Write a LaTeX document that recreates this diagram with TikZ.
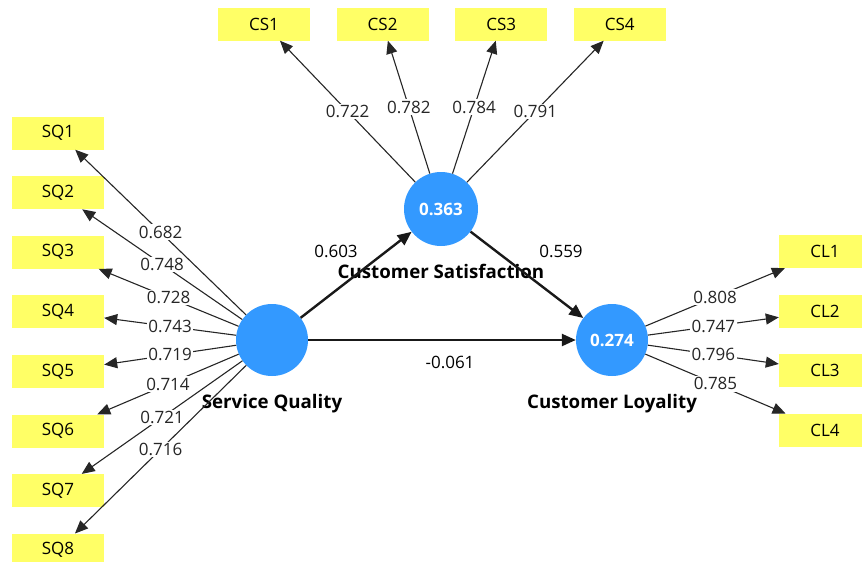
\documentclass[tikz,border=0pt]{standalone}
\usepackage{fontspec}
\setmainfont{Open Sans}
\usetikzlibrary{arrows.meta, positioning}
\definecolor{indyellow}{RGB}{255,255,102}
\definecolor{lvblue}{RGB}{51,153,255}

\begin{document}
\begin{tikzpicture}[
    x=1pt, y=-1pt,
    ind/.style={fill=indyellow, minimum width=92pt, minimum height=33pt, inner sep=0pt, font=\fontsize{17}{20}\selectfont},
    lv/.style={circle, fill=lvblue, minimum size=72pt, inner sep=0pt, text=white, font=\fontsize{17}{20}\selectfont\bfseries},
    lvname/.style={inner sep=0pt, font=\fontsize{18.7}{22}\selectfont\bfseries},
    load/.style={-{Triangle[length=13pt, width=11pt]}, line width=1.1pt, black!85},
    inner/.style={-{Triangle[length=14pt, width=12pt]}, line width=2.4pt, black!90},
    loadval/.style={pos=0.5, fill=white, inner sep=1.5pt, font=\fontsize{17}{20}\selectfont},
    pathval/.style={inner sep=0pt, font=\fontsize{17}{20}\selectfont},
    node distance=26.2pt
]
\path[use as bounding box] (0,0) rectangle (862,562);

% indicators
\node[ind] (cs1) at (264,24) {CS1};
\node[ind, right=of cs1] (cs2) {CS2};
\node[ind, right=of cs2] (cs3) {CS3};
\node[ind, right=of cs3] (cs4) {CS4};

\node[ind] (sq1) at (58,133) {SQ1};
\node[ind, below=of sq1] (sq2) {SQ2};
\node[ind, below=of sq2] (sq3) {SQ3};
\node[ind, below=of sq3] (sq4) {SQ4};
\node[ind, below=of sq4] (sq5) {SQ5};
\node[ind, below=of sq5] (sq6) {SQ6};
\node[ind, below=of sq6] (sq7) {SQ7};
\node[ind, below=of sq7] (sq8) {SQ8};

\node[ind] (cl1) at (825,251.4) {CL1};
\node[ind, below=of cl1] (cl2) {CL2};
\node[ind, below=of cl2] (cl3) {CL3};
\node[ind, below=of cl3] (cl4) {CL4};

% constructs
\node[lv] (sq) at (272,340) {};
\node[lv, minimum size=74pt] (cs) at (441,209) {0.363};
\node[lv] (cl) at (612,340) {0.274};

\node[lvname, below=18pt of sq] (sqname) {Service Quality};
\node[lvname, below=18pt of cs] (csname) {Customer Satisfaction};
\node[lvname, below=18pt of cl] (clname) {Customer Loyality};

% outer loadings
\draw[load] (sq) -- node[loadval] {0.682} (sq1);
\draw[load] (sq) -- node[loadval] {0.748} (sq2);
\draw[load] (sq) -- node[loadval] {0.728} (sq3);
\draw[load] (sq) -- node[loadval] {0.743} (sq4);
\draw[load] (sq) -- node[loadval] {0.719} (sq5);
\draw[load] (sq) -- node[loadval] {0.714} (sq6);
\draw[load] (sq) -- node[loadval] {0.721} (sq7);
\draw[load] (sq) -- node[loadval] {0.716} (sq8);

\draw[load] (cs) -- node[loadval] {0.722} (cs1);
\draw[load] (cs) -- node[loadval] {0.782} (cs2);
\draw[load] (cs) -- node[loadval] {0.784} (cs3);
\draw[load] (cs) -- node[loadval] {0.791} (cs4);

\draw[load] (cl) -- node[loadval] {0.808} (cl1);
\draw[load] (cl) -- node[loadval] {0.747} (cl2);
\draw[load] (cl) -- node[loadval] {0.796} (cl3);
\draw[load] (cl) -- node[loadval] {0.785} (cl4);

% path coefficients
\draw[inner] (sq) -- (cs);
\draw[inner] (sq) -- (cl);
\draw[inner] (cs) -- (cl);

\node[pathval] at (336,251) {0.603};
\node[pathval] at (561,251) {0.559};
\node[pathval] at (450,362) {-0.061};
\end{tikzpicture}
\end{document}
